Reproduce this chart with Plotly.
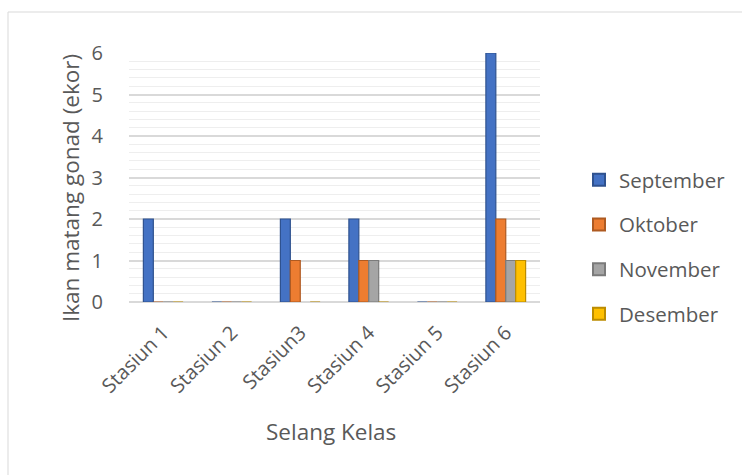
import plotly.graph_objects as go

categories = ["Stasiun 1", "Stasiun 2", "Stasiun3", "Stasiun 4", "Stasiun 5", "Stasiun 6"]
september = [2, 0, 2, 2, 0, 6]
oktober = [0, 0, 1, 1, 0, 2]
november = [0, 0, None, 1, 0, 1]
desember = [0, 0, 0, 0, 0, 1]

series = [
    ("September", september, "#4472C4", "#2F528F"),
    ("Oktober", oktober, "#ED7D31", "#AE5A21"),
    ("November", november, "#A5A5A5", "#7B7B7B"),
    ("Desember", desember, "#FFC000", "#BC8C00"),
]

FONT = "Open Sans, sans-serif"
TXT = "#595959"

fig = go.Figure()
for name, vals, col, edge in series:
    fig.add_trace(go.Bar(
        name=name, x=categories, y=vals, legendgroup=name,
        marker=dict(color=col, line=dict(color=edge, width=1.2)),
    ))

W, H = 742, 475
L, R, T, B = 129, 202, 53, 173
pw, ph = W - L - R, H - T - B


def px_x(p):
    return (p - L) / pw


def px_y(p):
    return (H - B - p) / ph


fig.update_layout(
    width=W, height=H,
    margin=dict(l=L, r=R, t=T, b=B, autoexpand=False),
    paper_bgcolor="white", plot_bgcolor="white",
    barmode="group", bargap=0.42, bargroupgap=0,
    font=dict(family=FONT, color=TXT, size=18),
    showlegend=True,
    legend=dict(
        x=px_x(579), y=px_y(160), xanchor="left", yanchor="top",
        font=dict(size=20.5, color=TXT), tracegroupgap=15, itemsizing="constant",
        itemwidth=30,
    ),
    xaxis=dict(
        tickangle=-45, tickfont=dict(size=20, color=TXT), automargin=False,
        ticklabelstandoff=14,
        showline=False, ticks="", showgrid=False,
    ),
    yaxis=dict(
        range=[0, 6], dtick=1, tickfont=dict(size=20, color=TXT), automargin=False,
        ticklabelstandoff=25,
        showgrid=True, gridcolor="#d9d9d9", gridwidth=2,
        minor=dict(dtick=0.2, showgrid=True, gridcolor="#eeeeee", gridwidth=1),
        zeroline=True, zerolinecolor="#d9d9d9", zerolinewidth=2,
        ticks="", showline=False,
    ),
    annotations=[
        dict(text="Ikan matang gonad (ekor)", xref="paper", yref="paper",
             x=px_x(70), y=px_y(188), xanchor="center", yanchor="middle",
             textangle=-90, showarrow=False, font=dict(size=22.5, color=TXT)),
        dict(text="Selang Kelas", xref="paper", yref="paper",
             x=px_x(331), y=px_y(431), xanchor="center", yanchor="middle",
             showarrow=False, font=dict(size=22.5, color=TXT)),
    ],
    shapes=[dict(
        type="rect", xref="paper", yref="paper",
        x0=px_x(8), x1=px_x(760), y0=px_y(490), y1=px_y(12),
        line=dict(color="#d9d9d9", width=1), layer="below",
    )],
)

fig.write_html("out.html", config={"displayModeBar": False},
               post_script="document.body.style.margin='0';")
